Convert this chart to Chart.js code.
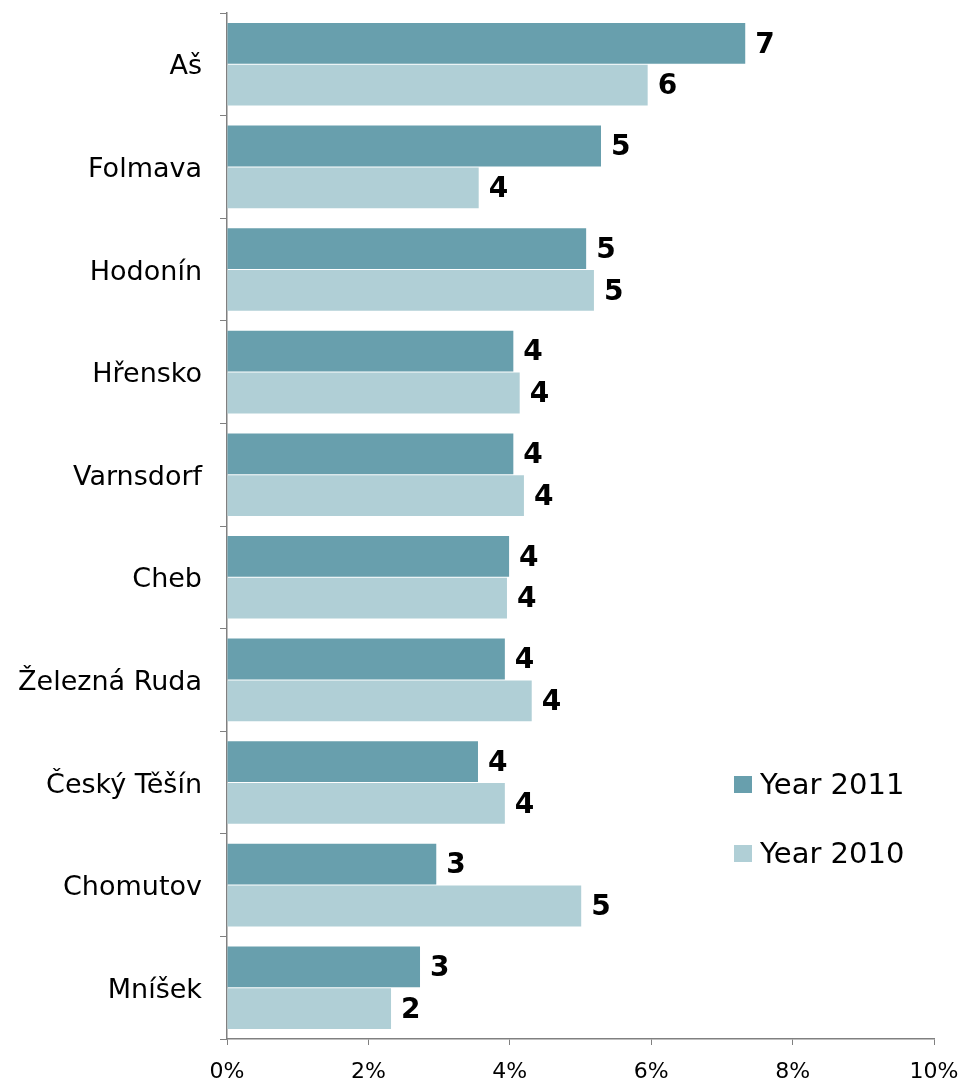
<!DOCTYPE html>
<html><head><meta charset="utf-8">
<script src="https://cdn.jsdelivr.net/npm/chart.js@4/dist/chart.umd.min.js"></script>
<style>html,body{margin:0;padding:0;background:#fff}#wrap{width:959px;height:1081px}</style>
</head><body><div id="wrap"><canvas id="c" width="959" height="1081"></canvas></div>
<script>
const categories = ["Aš","Folmava","Hodonín","Hřensko","Varnsdorf","Cheb","Železná Ruda","Český Těšín","Chomutov","Mníšek"];
const year2011 = [7.33,5.29,5.08,4.05,4.05,3.99,3.93,3.55,2.96,2.73];
const year2010 = [5.95,3.56,5.19,4.14,4.20,3.96,4.31,3.93,5.01,2.32];
const seriesNames = ["Year 2011","Year 2010"];
const xTicks = [0,2,4,6,8,10];
const colors = ["#689FAD","#B0CFD6"];
const FONT = "'DejaVu Sans', Verdana, sans-serif";

const valueLabels = {
  id:'valueLabels',
  afterDatasetsDraw(chart){
    const ctx = chart.ctx;
    ctx.save();
    ctx.font = "bold 28px " + FONT;
    ctx.fillStyle = "#000";
    ctx.textBaseline = "middle";
    ctx.textAlign = "left";
    chart.data.datasets.forEach((ds,i)=>{
      chart.getDatasetMeta(i).data.forEach((bar,j)=>{
        ctx.fillText(String(Math.round(ds.data[j])), bar.x + 10, bar.y + 2);
      });
    });
    ctx.restore();
  }
};
const customLegend = {
  id:'customLegend',
  afterDraw(chart){
    const ctx = chart.ctx;
    ctx.save();
    ctx.font = "29px " + FONT;
    ctx.textBaseline = "middle";
    ctx.textAlign = "left";
    const ys = [785, 854];
    seriesNames.forEach((n,i)=>{
      ctx.fillStyle = colors[i];
      ctx.fillRect(734, ys[i]-9, 18, 17);
      ctx.fillStyle = "#000";
      ctx.fillText(n, 760, ys[i]+1);
    });
    ctx.restore();
  }
};

new Chart(document.getElementById('c'), {
  type:'bar',
  data:{
    labels:categories,
    datasets:[
      {label:seriesNames[0], data:year2011, backgroundColor:colors[0], barPercentage:0.975, categoryPercentage:0.815},
      {label:seriesNames[1], data:year2010, backgroundColor:colors[1], barPercentage:0.975, categoryPercentage:0.815}
    ]
  },
  options:{
    indexAxis:'y',
    responsive:false,
    animation:false,
    layout:{padding:{top:13,right:25,left:0,bottom:0}},
    plugins:{legend:{display:false},tooltip:{enabled:false}},
    scales:{
      x:{
        min:0,max:10,
        afterBuildTicks(s){ s.ticks = xTicks.map(v=>({value:v})); },
        afterFit(s){ s.height = 42; s.paddingLeft = 0; s.paddingRight = 0; },
        ticks:{callback:v=>v+"%", font:{family:FONT,size:22}, color:"#000", padding:14, maxRotation:0},
        grid:{drawOnChartArea:false, tickLength:6, color:"#808080"},
        border:{color:"#808080", width:1.5}
      },
      y:{
        afterFit(s){ s.width = 227; s.paddingTop = 0; s.paddingBottom = 0; },
        ticks:{font:{family:FONT,size:27}, color:"#000", padding:18, labelOffset:3},
        grid:{offset:true, drawOnChartArea:false, tickLength:7, color:"#808080"},
        border:{color:"#808080", width:1.5}
      }
    }
  },
  plugins:[valueLabels, customLegend]
});
</script></body></html>
